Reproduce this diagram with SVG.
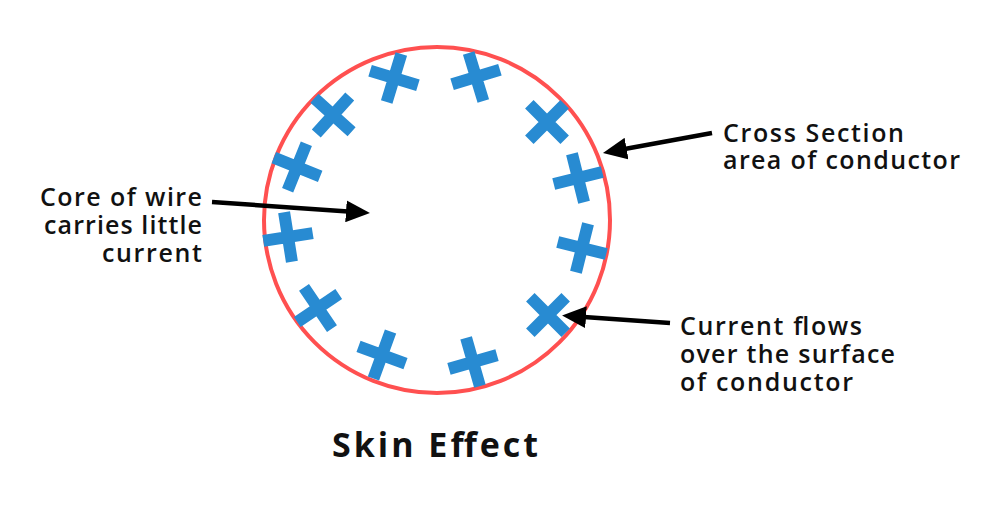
<svg xmlns="http://www.w3.org/2000/svg" width="1000" height="516" viewBox="0 0 1000 516">
<style>
.lbl{font-family:"Open Sans","Liberation Sans",sans-serif;font-size:25px;font-weight:600;fill:#111}
.title{font-family:"Open Sans","Liberation Sans",sans-serif;font-size:34px;font-weight:700;fill:#111}
.arrow{stroke:#000;stroke-width:4.5;fill:none}
.plus{fill:#288BD2}
</style>
<defs>
<path id="plus" class="plus" d="M-25,-6H25V6H-25Z M-6,-25H6V25H-6Z"/>
<marker id="head" viewBox="0 0 24 22" refX="2" refY="11" markerWidth="24" markerHeight="22" markerUnits="userSpaceOnUse" orient="auto">
<path d="M0,0L24,11L0,22Z" fill="#000"/>
</marker>
</defs>
<rect width="1000" height="516" fill="#fff"/>
<g id="conductor">
<circle cx="437" cy="220" r="173" fill="none" stroke="#FF5050" stroke-width="4"/>
</g>
<g id="crosses">
<use href="#plus" transform="translate(394,78) rotate(17)"/>
<use href="#plus" transform="translate(476,77) rotate(-17)"/>
<use href="#plus" transform="translate(333,115) rotate(42)"/>
<use href="#plus" transform="translate(297,167) rotate(22)"/>
<use href="#plus" transform="translate(547,122) rotate(45)"/>
<use href="#plus" transform="translate(578,178) rotate(-14)"/>
<use href="#plus" transform="translate(288,237) rotate(-9)"/>
<use href="#plus" transform="translate(318,308) rotate(-34)"/>
<use href="#plus" transform="translate(382,355) rotate(20)"/>
<use href="#plus" transform="translate(473,362) rotate(-16)"/>
<use href="#plus" transform="translate(548,315) rotate(45)"/>
<use href="#plus" transform="translate(582,248) rotate(14)"/>
</g>
<g id="connectors">
<line class="arrow" x1="212" y1="202" x2="348" y2="211.5" marker-end="url(#head)"/>
<line class="arrow" x1="712" y1="133" x2="624.6" y2="149" marker-end="url(#head)"/>
<line class="arrow" x1="670" y1="323" x2="584" y2="317" marker-end="url(#head)"/>
</g>
<g id="label-core">
<text class="lbl" x="40" y="206" textLength="162" lengthAdjust="spacing">Core of wire</text>
<text class="lbl" x="44" y="234" textLength="158" lengthAdjust="spacing">carries little</text>
<text class="lbl" x="102" y="262" textLength="100" lengthAdjust="spacing">current</text>
</g>
<g id="label-cross-section">
<text class="lbl" x="723" y="142" textLength="181" lengthAdjust="spacing">Cross Section</text>
<text class="lbl" x="723" y="169" textLength="237" lengthAdjust="spacing">area of conductor</text>
</g>
<g id="label-current">
<text class="lbl" x="680" y="335" textLength="182" lengthAdjust="spacing">Current flows</text>
<text class="lbl" x="680" y="363" textLength="215" lengthAdjust="spacing">over the surface</text>
<text class="lbl" x="680" y="391" textLength="173" lengthAdjust="spacing">of conductor</text>
</g>
<g id="title">
<text class="title" x="332" y="457" textLength="206" lengthAdjust="spacing">Skin Effect</text>
</g>
</svg>
